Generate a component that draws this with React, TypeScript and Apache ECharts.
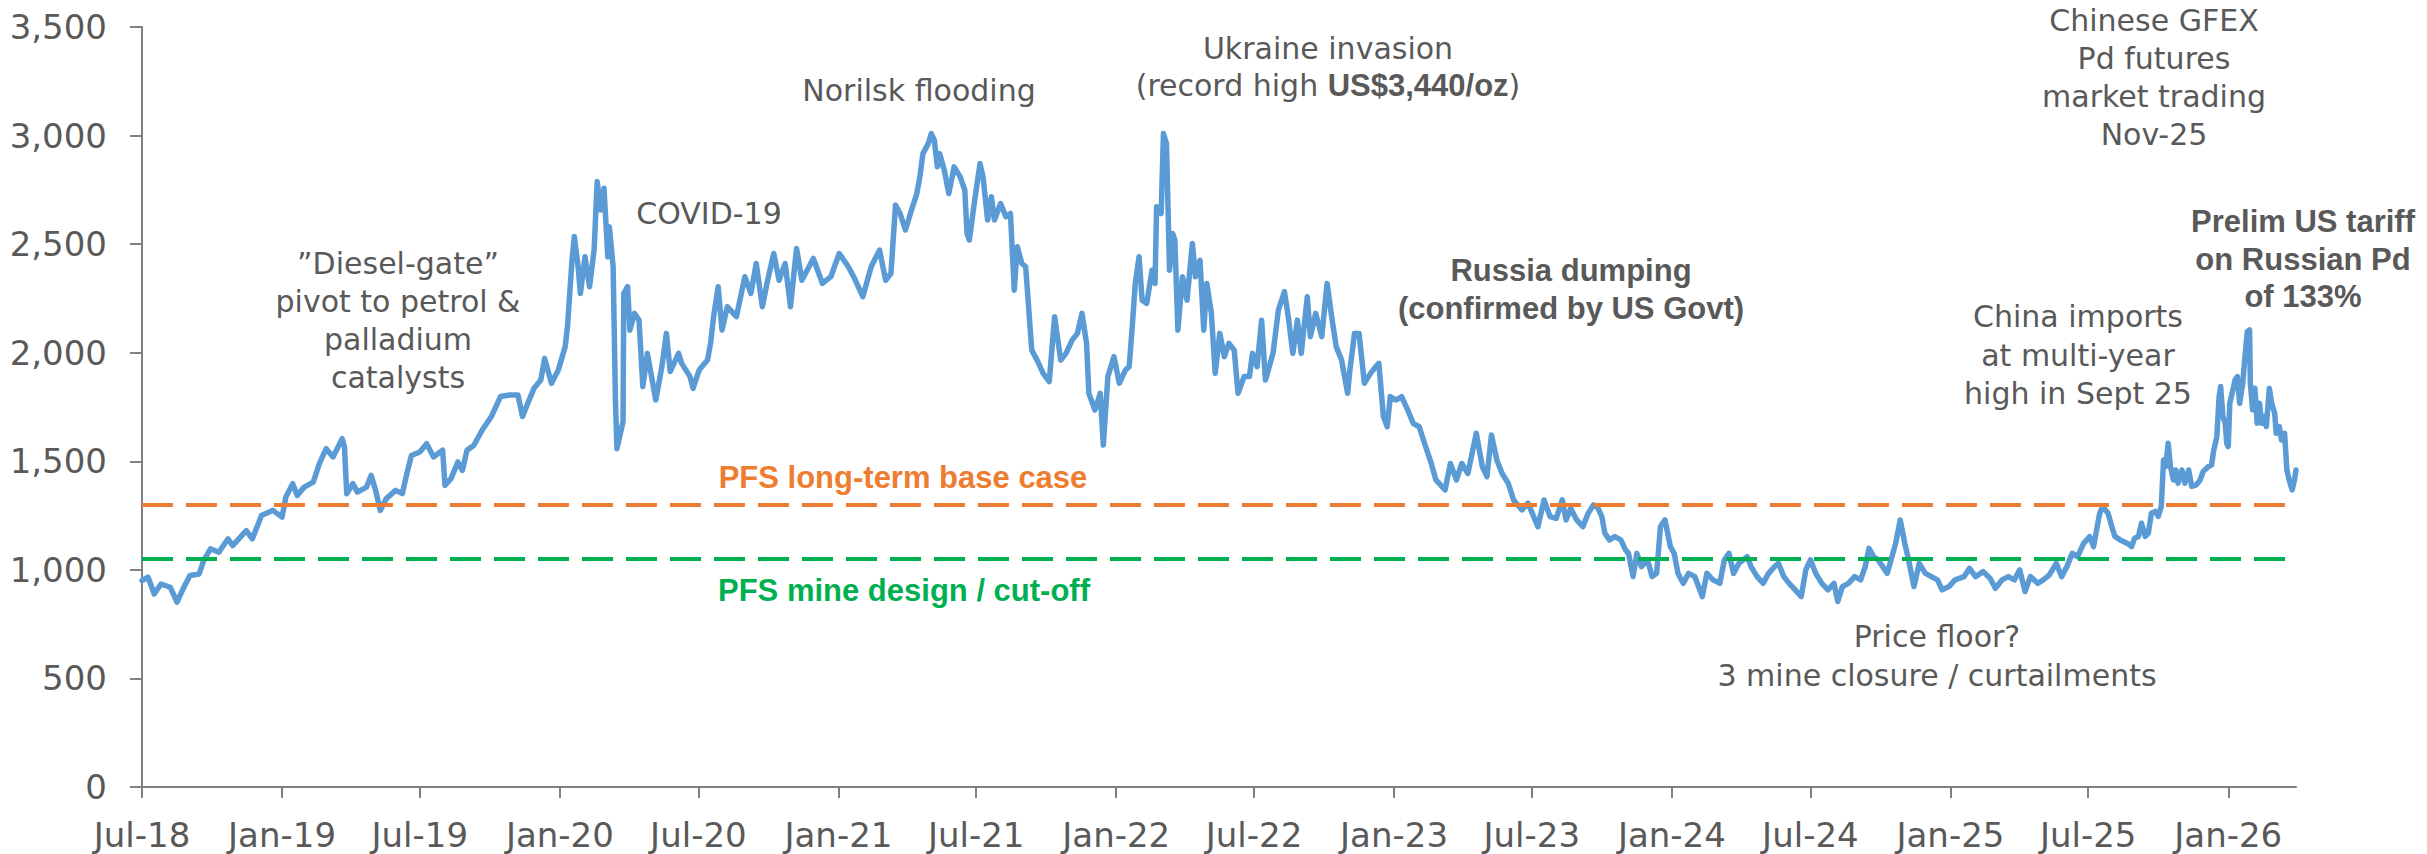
import React, { useEffect, useRef } from "react";
import * as echarts from "echarts";

// ---- Data ----
const dates: string[] = [
  "2018-07-01","2018-07-09","2018-07-17","2018-07-26","2018-08-07","2018-08-16","2018-08-25","2018-09-02","2018-09-14","2018-09-20",
  "2018-09-29","2018-10-10","2018-10-22","2018-10-28","2018-11-15","2018-11-23","2018-12-05","2018-12-20","2019-01-01","2019-01-06",
  "2019-01-15","2019-01-21","2019-01-30","2019-02-11","2019-02-19","2019-02-28","2019-03-09","2019-03-21","2019-03-24","2019-03-27",
  "2019-04-04","2019-04-10","2019-04-22","2019-04-28","2019-05-04","2019-05-10","2019-05-18","2019-05-30","2019-06-08","2019-06-14",
  "2019-06-20","2019-07-01","2019-07-10","2019-07-19","2019-07-31","2019-08-03","2019-08-11","2019-08-20","2019-08-26","2019-09-01",
  "2019-09-10","2019-09-21","2019-10-03","2019-10-15","2019-10-27","2019-11-07","2019-11-13","2019-11-19","2019-11-28","2019-12-07",
  "2019-12-12","2019-12-21","2019-12-30","2020-01-08","2020-01-11","2020-01-17","2020-01-20","2020-01-25","2020-01-28","2020-02-03",
  "2020-02-09","2020-02-15","2020-02-19","2020-02-24","2020-02-28","2020-03-04","2020-03-06","2020-03-11","2020-03-14","2020-03-16",
  "2020-03-24","2020-03-25","2020-03-30","2020-04-02","2020-04-08","2020-04-14","2020-04-19","2020-04-25","2020-05-06","2020-05-14",
  "2020-05-20","2020-05-25","2020-06-05","2020-06-09","2020-06-20","2020-06-24","2020-07-02","2020-07-13","2020-07-17","2020-07-21",
  "2020-07-27","2020-08-01","2020-08-08","2020-08-20","2020-08-31","2020-09-08","2020-09-15","2020-09-23","2020-09-30","2020-10-08",
  "2020-10-15","2020-10-23","2020-10-30","2020-11-07","2020-11-14","2020-11-29","2020-12-11","2020-12-22","2021-01-02","2021-01-14",
  "2021-01-21","2021-02-02","2021-02-13","2021-02-24","2021-03-04","2021-03-11","2021-03-17","2021-03-23","2021-03-30","2021-04-07",
  "2021-04-14","2021-04-18","2021-04-22","2021-04-29","2021-05-03","2021-05-07","2021-05-11","2021-05-14","2021-05-20","2021-05-26",
  "2021-06-02","2021-06-10","2021-06-16","2021-06-19","2021-06-22","2021-06-29","2021-07-06","2021-07-10","2021-07-16","2021-07-21",
  "2021-07-25","2021-08-02","2021-08-09","2021-08-15","2021-08-20","2021-08-24","2021-08-30","2021-09-04","2021-09-12","2021-09-19",
  "2021-09-27","2021-10-05","2021-10-12","2021-10-20","2021-10-27","2021-11-04","2021-11-11","2021-11-17","2021-11-23","2021-11-26",
  "2021-12-04","2021-12-11","2021-12-15","2021-12-21","2021-12-29","2022-01-05","2022-01-13","2022-01-18","2022-01-22","2022-01-26",
  "2022-01-31","2022-02-04","2022-02-10","2022-02-17","2022-02-21","2022-02-23","2022-03-01","2022-03-04","2022-03-08","2022-03-12",
  "2022-03-16","2022-03-19","2022-03-23","2022-03-29","2022-04-04","2022-04-11","2022-04-15","2022-04-21","2022-04-26","2022-04-30",
  "2022-05-06","2022-05-11","2022-05-17","2022-05-23","2022-05-29","2022-06-05","2022-06-10","2022-06-18","2022-06-25","2022-06-29",
  "2022-07-05","2022-07-11","2022-07-16","2022-07-26","2022-08-02","2022-08-10","2022-08-15","2022-08-21","2022-08-27","2022-09-01",
  "2022-09-09","2022-09-13","2022-09-20","2022-09-28","2022-10-05","2022-10-11","2022-10-17","2022-10-24","2022-11-01","2022-11-04",
  "2022-11-10","2022-11-16","2022-11-23","2022-12-01","2022-12-08","2022-12-12","2022-12-18","2022-12-23","2022-12-27","2023-01-04",
  "2023-01-11","2023-01-19","2023-01-26","2023-02-03","2023-02-10","2023-02-18","2023-02-25","2023-03-09","2023-03-16","2023-03-24",
  "2023-03-31","2023-04-08","2023-04-19","2023-04-27","2023-05-03","2023-05-09","2023-05-16","2023-05-23","2023-05-31","2023-06-07",
  "2023-06-18","2023-06-26","2023-07-09","2023-07-17","2023-07-25","2023-08-02","2023-08-10","2023-08-15","2023-08-21","2023-08-29",
  "2023-09-06","2023-09-13","2023-09-20","2023-09-25","2023-10-01","2023-10-05","2023-10-11","2023-10-18","2023-10-26","2023-11-01",
  "2023-11-05","2023-11-11","2023-11-16","2023-11-22","2023-11-30","2023-12-06","2023-12-12","2023-12-17","2023-12-23","2023-12-30",
  "2024-01-04","2024-01-09","2024-01-16","2024-01-23","2024-01-31","2024-02-10","2024-02-16","2024-02-24","2024-03-04","2024-03-10",
  "2024-03-16","2024-03-22","2024-03-29","2024-04-09","2024-04-14","2024-04-22","2024-04-30","2024-05-07","2024-05-15","2024-05-20",
  "2024-05-27","2024-06-03","2024-06-11","2024-06-19","2024-06-25","2024-07-01","2024-07-08","2024-07-16","2024-07-24","2024-08-01",
  "2024-08-06","2024-08-12","2024-08-20","2024-08-28","2024-09-05","2024-09-11","2024-09-16","2024-09-22","2024-09-28","2024-10-04",
  "2024-10-10","2024-10-15","2024-10-21","2024-10-27","2024-11-02","2024-11-07","2024-11-14","2024-11-21","2024-11-29","2024-12-07",
  "2024-12-15","2024-12-21","2024-12-30","2025-01-07","2025-01-19","2025-01-26","2025-02-03","2025-02-13","2025-02-22","2025-03-01",
  "2025-03-10","2025-03-18","2025-03-26","2025-04-02","2025-04-09","2025-04-16","2025-04-26","2025-05-03","2025-05-11","2025-05-20",
  "2025-05-27","2025-06-03","2025-06-10","2025-06-17","2025-06-25","2025-07-03","2025-07-08","2025-07-16","2025-07-20","2025-07-27",
  "2025-08-01","2025-08-05","2025-08-12","2025-08-21","2025-08-27","2025-08-31","2025-09-05","2025-09-09","2025-09-14","2025-09-18",
  "2025-09-22","2025-09-27","2025-10-01","2025-10-05","2025-10-08","2025-10-11","2025-10-14","2025-10-17","2025-10-21","2025-10-24",
  "2025-10-27","2025-11-01","2025-11-05","2025-11-10","2025-11-14","2025-11-20","2025-11-25","2025-11-29","2025-12-06","2025-12-10",
  "2025-12-13","2025-12-17","2025-12-20","2025-12-22","2025-12-25","2025-12-28","2025-12-30","2026-01-01","2026-01-03","2026-01-07",
  "2026-01-10","2026-01-13","2026-01-16","2026-01-20","2026-01-23","2026-01-26","2026-01-29","2026-01-30","2026-02-02","2026-02-05",
  "2026-02-08","2026-02-11","2026-02-14","2026-02-18","2026-02-20","2026-02-24","2026-02-27","2026-03-03","2026-03-05","2026-03-09",
  "2026-03-12","2026-03-16","2026-03-19","2026-03-22","2026-03-26","2026-03-29","2026-03-31"
];

const prices: number[] = [
  951,966,889,935,920,851,920,974,981,1043,
  1097,1081,1143,1112,1181,1143,1250,1274,1243,1335,
  1397,1343,1381,1404,1489,1558,1520,1604,1566,1351,
  1397,1358,1381,1435,1366,1274,1328,1366,1351,1443,
  1527,1543,1581,1520,1551,1389,1420,1497,1458,1551,
  1574,1644,1706,1798,1805,1805,1706,1760,1836,1874,
  1974,1859,1920,2028,2120,2427,2535,2396,2273,2442,
  2304,2473,2788,2657,2757,2442,2580,2396,1782,1558,
  1683,2273,2304,2104,2181,2150,1844,1997,1782,1935,
  2089,1913,1997,1951,1890,1836,1920,1966,2043,2166,
  2304,2104,2212,2166,2350,2273,2411,2212,2334,2457,
  2334,2411,2212,2480,2334,2434,2319,2350,2457,2396,
  2350,2258,2396,2473,2334,2365,2680,2641,2565,2657,
  2733,2810,2917,2963,3009,2979,2856,2917,2841,2733,
  2856,2810,2749,2549,2519,2703,2871,2810,2611,2718,
  2611,2687,2626,2641,2288,2488,2411,2396,2012,1966,
  1905,1867,2166,1966,1997,2058,2089,2181,2043,1813,
  1736,1813,1575,1890,1982,1859,1920,1936,2120,2319,
  2442,2242,2227,2380,2319,2672,2641,3009,2963,2380,
  2549,2519,2104,2350,2242,2503,2350,2426,2104,2319,
  2181,1905,2089,1982,2043,2012,1813,1890,1890,1997,
  1936,2150,1874,1997,2196,2281,2166,1997,2150,1997,
  2258,2074,2181,2074,2319,2166,2028,1966,1813,1920,
  2089,2089,1859,1905,1936,1951,1706,1659,1798,1782,
  1798,1736,1675,1659,1583,1500,1414,1368,1490,1414,
  1490,1444,1629,1475,1429,1621,1506,1444,1399,1322,
  1276,1307,1199,1322,1245,1237,1322,1230,1283,1230,
  1199,1260,1299,1291,1245,1168,1138,1153,1138,1092,
  1076,969,1076,1015,1046,969,984,1199,1230,1107,
  1076,984,938,984,969,877,984,954,938,1046,
  1076,984,1030,1061,1015,969,938,984,1015,1030,
  969,938,908,877,1000,1046,984,938,908,938,
  854,923,938,969,954,1015,1099,1061,1046,1015,
  984,1046,1122,1230,1122,1046,923,1030,984,969,
  954,908,923,954,969,1007,969,992,961,915,
  954,969,954,1000,900,969,938,954,977,1030,
  969,1015,1076,1061,1122,1153,1107,1260,1291,1261,
  1200,1154,1138,1123,1107,1146,1154,1215,1154,1169,
  1261,1269,1246,1292,1506,1476,1583,1476,1414,1460,
  1399,1460,1399,1460,1384,1391,1414,1453,1476,1483,
  1552,1614,1798,1844,1706,1675,1583,1568,1767,1828,
  1875,1890,1767,1859,1982,2097,2105,1859,1737,1836,
  1675,1767,1675,1706,1660,1836,1767,1721,1629,1660,
  1598,1629,1460,1414,1368,1414,1460
];

const tickDates: string[] = [
  "2018-07-01","2019-01-01","2019-07-01","2020-01-01","2020-07-01","2021-01-01","2021-07-01","2022-01-01",
  "2022-07-01","2023-01-01","2023-07-01","2024-01-01","2024-07-01","2025-01-01","2025-07-01","2026-01-01"
];
const tickLabels: string[] = [
  "Jul-18","Jan-19","Jul-19","Jan-20","Jul-20","Jan-21","Jul-21","Jan-22",
  "Jul-22","Jan-23","Jul-23","Jan-24","Jul-24","Jan-25","Jul-25","Jan-26"
];
const axisStart = "2018-07-01";
const axisEnd = "2026-03-31";
const yMin = 0;
const yMax = 3500;
const yStep = 500;
const baseCaseLevel = 1300; // PFS long-term base case
const mineDesignLevel = 1050; // PFS mine design / cut-off

const GREY_TEXT = "#595959";
const AXIS_GREY = "#808080";
const BLUE = "#5B9BD5";
const ORANGE = "#ED7D31";
const GREEN = "#00B050";
const REG_FONT = "'DejaVu Sans', sans-serif";
const BOLD_FONT = "'Liberation Sans', Arial, sans-serif";

function regText(x: number, y: number, text: string, lineHeight = 38) {
  return {
    type: "text",
    x,
    y,
    z: 100,
    style: {
      text,
      align: "center",
      verticalAlign: "middle",
      fontSize: 30,
      fontFamily: REG_FONT,
      fill: GREY_TEXT,
      lineHeight,
    },
  };
}

function boldText(x: number, y: number, text: string, color = GREY_TEXT, lineHeight = 38) {
  return {
    type: "text",
    x,
    y,
    z: 100,
    style: {
      text,
      align: "center",
      verticalAlign: "middle",
      fontSize: 31,
      fontWeight: "bold",
      fontFamily: BOLD_FONT,
      fill: color,
      lineHeight,
    },
  };
}

export default function App() {
  const ref = useRef<HTMLDivElement>(null);

  useEffect(() => {
    if (!ref.current) return;
    const chart = echarts.init(ref.current, undefined, { renderer: "svg" });
    const tickVals = tickDates.map((d) => Date.parse(d));
    const seriesData = dates.map((d, i) => [Date.parse(d), prices[i]]);

    const option: any = {
      animation: false,
      backgroundColor: "#ffffff",
      grid: {
        left: 142,
        right: 131,
        top: 27,
        bottom: 67,
        containLabel: false,
        outerBoundsMode: "none",
      },
      xAxis: {
        type: "value",
        min: Date.parse(axisStart),
        max: Date.parse(axisEnd),
        splitLine: { show: false },
        axisLine: { show: true, onZero: false, lineStyle: { color: AXIS_GREY, width: 2 } },
        axisTick: {
          show: true,
          customValues: tickVals,
          length: 11,
          lineStyle: { color: AXIS_GREY, width: 2 },
        },
        axisLabel: {
          customValues: tickVals,
          formatter: (v: number) => {
            const idx = tickVals.indexOf(v);
            return idx >= 0 ? tickLabels[idx] : "";
          },
          color: GREY_TEXT,
          fontSize: 34,
          fontFamily: REG_FONT,
          margin: 31,
        },
      },
      yAxis: {
        type: "value",
        min: yMin,
        max: yMax,
        interval: yStep,
        splitLine: { show: false },
        axisLine: { show: true, lineStyle: { color: AXIS_GREY, width: 2 } },
        axisTick: { show: true, length: 12, lineStyle: { color: AXIS_GREY, width: 2 } },
        axisLabel: {
          formatter: (v: number) => v.toLocaleString("en-US"),
          color: GREY_TEXT,
          fontSize: 34,
          fontFamily: REG_FONT,
          margin: 35,
        },
      },
      series: [
        {
          type: "line",
          name: "Palladium price (US$/oz)",
          data: seriesData,
          showSymbol: false,
          symbol: "none",
          lineStyle: { color: BLUE, width: 5.5, join: "round", cap: "round" },
          itemStyle: { color: BLUE },
          markLine: {
            silent: true,
            symbol: ["none", "none"],
            label: { show: false },
            data: [
              { yAxis: baseCaseLevel, lineStyle: { color: ORANGE, type: [31, 13], width: 4 } },
              { yAxis: mineDesignLevel, lineStyle: { color: GREEN, type: [31, 13], width: 4 } },
            ],
          },
        },
      ],
      graphic: [
        regText(398, 320.5, "\u201DDiesel-gate\u201D\npivot to petrol &\npalladium\ncatalysts"),
        regText(709, 213, "COVID-19"),
        regText(919, 90, "Norilsk flooding"),
        {
          type: "text",
          x: 1328,
          y: 66.5,
          z: 100,
          style: {
            text: "{r|Ukraine invasion}\n{r|(record high }{b|US$3,440/oz}{r|)}",
            align: "center",
            verticalAlign: "middle",
            rich: {
              r: { fontSize: 30, fontFamily: REG_FONT, fill: GREY_TEXT, lineHeight: 37 },
              b: { fontSize: 31, fontFamily: BOLD_FONT, fontWeight: "bold", fill: GREY_TEXT, lineHeight: 37 },
            },
          },
        },
        boldText(1571, 289, "Russia dumping\n(confirmed by US Govt)"),
        regText(2154, 77.5, "Chinese GFEX\nPd futures\nmarket trading\nNov-25", 38.3),
        boldText(2303, 259, "Prelim US tariff\non Russian Pd\nof 133%", GREY_TEXT, 37.5),
        regText(2078, 355, "China imports\nat multi-year\nhigh in Sept 25", 38.2),
        regText(1937, 656, "Price floor?\n3 mine closure / curtailments", 38.3),
        boldText(903, 477, "PFS long-term base case", ORANGE),
        boldText(904, 590, "PFS mine design / cut-off", GREEN),
      ],
    };

    chart.setOption(option);
    return () => {
      chart.dispose();
    };
  }, []);

  return (
    <div
      ref={ref}
      style={{ position: "absolute", left: 0, top: 0, width: "2427px", height: "854px", background: "#fff" }}
    />
  );
}
